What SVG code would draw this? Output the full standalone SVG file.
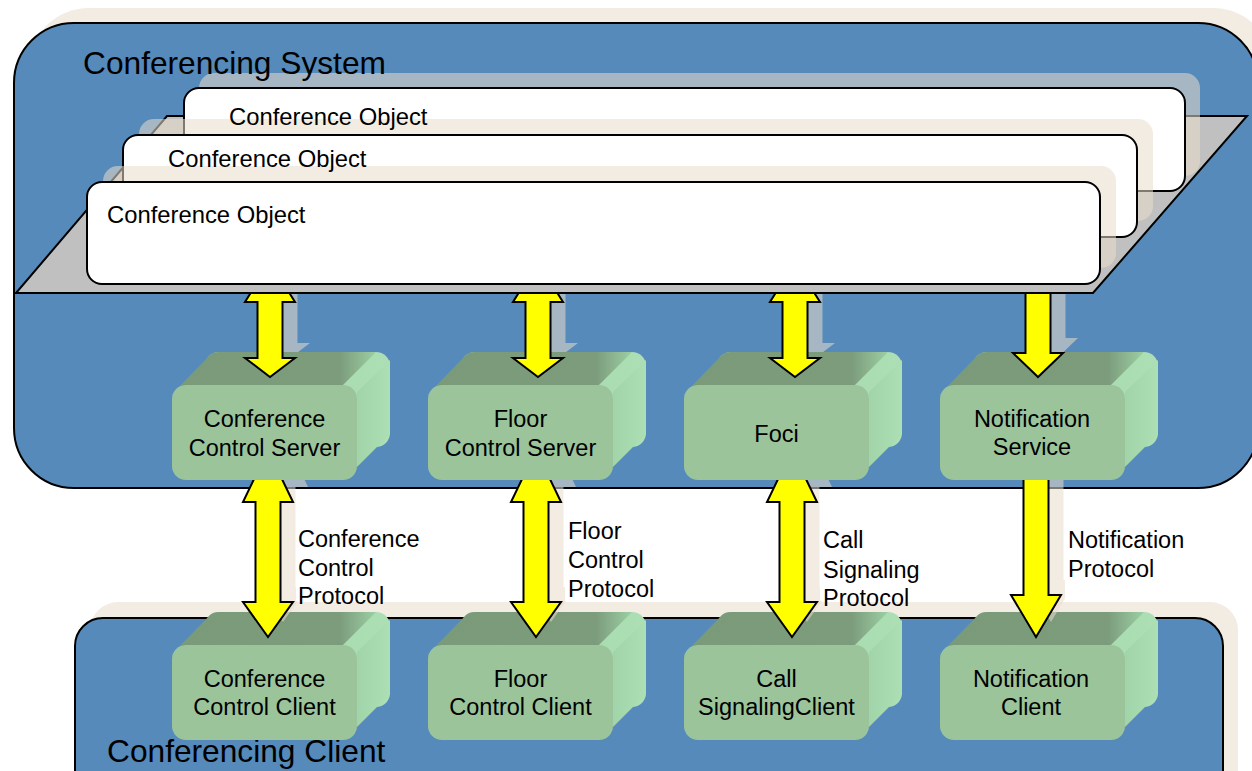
<svg xmlns="http://www.w3.org/2000/svg" xmlns:xlink="http://www.w3.org/1999/xlink" width="1252" height="771" viewBox="0 0 1252 771">
<style>
.t{font-family:"Liberation Sans",Arial,sans-serif;fill:#000}
.n{font-size:23.5px;text-anchor:middle}
.l{font-size:23.5px}
.big{font-size:31.7px}
.obj{font-size:23.8px}
.arrow{fill:#FFFF00;stroke:#000;stroke-width:2;stroke-linejoin:miter}
.sh{fill:#E9DDCB;opacity:.55}
.frame{fill:#558ABA;stroke:#000;stroke-width:2}
.co{fill:#FFFFFF;stroke:#000;stroke-width:2}
.lbg{fill:#FFFFFF}
</style>
<defs>
<linearGradient id="topG" x1="0" y1="0" x2="1" y2="0">
<stop offset="0" stop-color="#7A9A7A"/>
<stop offset="0.82" stop-color="#7C9C7C"/>
<stop offset="1" stop-color="#9CCFA3"/>
</linearGradient>
<linearGradient id="sideG" x1="0" y1="0" x2="1" y2="0">
<stop offset="0" stop-color="#A2D4AA"/>
<stop offset="1" stop-color="#ACDFB3"/>
</linearGradient>
<g id="box">
<rect x="33" y="0" width="185" height="95" rx="14" fill="url(#sideG)"/>
<path d="M3,39 L38,3 Q41,0 47,0 L204,0 L171,33 L10,33 Z" fill="url(#topG)"/>
<path d="M185,40 L218,8 L218,82 L185,115 Z" fill="url(#sideG)"/>
<rect x="0" y="33" width="185" height="95" rx="14" fill="#9BC49B"/>
</g>
</defs>

<g id="conferencing-system">
<rect class="sh" x="29" y="8" width="1244" height="465" rx="60"/>
<rect class="frame" x="14" y="23" width="1244" height="465" rx="60"/>
</g>

<g id="conferencing-client">
<rect class="sh" x="90" y="602" width="1148" height="200" rx="28"/>
<rect class="frame" x="75" y="618" width="1148" height="200" rx="28"/>
<text class="t big" x="107" y="762">Conferencing Client</text>
</g>

<g id="client-nodes">
<g id="conference-control-client">
<use xlink:href="#box" transform="translate(172,612)"/>
<text class="t n" x="264.5" y="687">Conference</text>
<text class="t n" x="264.5" y="715">Control Client</text>
</g>
<g id="floor-control-client">
<use xlink:href="#box" transform="translate(428,612)"/>
<text class="t n" x="520.5" y="687">Floor</text>
<text class="t n" x="520.5" y="715">Control Client</text>
</g>
<g id="call-signaling-client">
<use xlink:href="#box" transform="translate(684,612)"/>
<text class="t n" x="776.5" y="687">Call</text>
<text class="t n" x="776.5" y="715">SignalingClient</text>
</g>
<g id="notification-client">
<use xlink:href="#box" transform="translate(940,612)"/>
<text class="t n" x="1031" y="687">Notification</text>
<text class="t n" x="1031" y="715">Client</text>
</g>
</g>

<g id="connectors">
<g id="lower-shadows" transform="translate(15,-15)">
<path class="sh" d="M268,450 L293,502 L280.5,502 L280.5,602 L293,602 L268,637 L243,602 L255.5,602 L255.5,502 L243,502 Z"/>
<path class="sh" d="M536,450 L561,502 L548.5,502 L548.5,602 L561,602 L536,637 L511,602 L523.5,602 L523.5,502 L511,502 Z"/>
<path class="sh" d="M792,450 L817,502 L804.5,502 L804.5,602 L817,602 L792,637 L767,602 L779.5,602 L779.5,502 L767,502 Z"/>
<path class="sh" d="M1023.5,460 L1048.5,460 L1048.5,595 L1061,595 L1036,637 L1011,595 L1023.5,595 Z"/>
</g>
<g id="labels">
<rect class="lbg" x="296" y="489" width="130" height="112"/>
<text class="t l" x="298" y="547">Conference</text>
<text class="t l" x="298" y="576">Control</text>
<text class="t l" x="298" y="604">Protocol</text>
<rect class="lbg" x="565" y="489" width="100" height="112"/>
<text class="t l" x="568" y="539">Floor</text>
<text class="t l" x="568" y="568">Control</text>
<text class="t l" x="568" y="597">Protocol</text>
<rect class="lbg" x="820" y="489" width="110" height="112"/>
<text class="t l" x="823" y="548">Call</text>
<text class="t l" x="823" y="578">Signaling</text>
<text class="t l" x="823" y="606">Protocol</text>
<rect class="lbg" x="1065" y="489" width="125" height="112"/>
<text class="t l" x="1068" y="548">Notification</text>
<text class="t l" x="1068" y="577">Protocol</text>
</g>
<path class="arrow" d="M268,450 L293,502 L280.5,502 L280.5,602 L293,602 L268,637 L243,602 L255.5,602 L255.5,502 L243,502 Z"/>
<path class="arrow" d="M536,450 L561,502 L548.5,502 L548.5,602 L561,602 L536,637 L511,602 L523.5,602 L523.5,502 L511,502 Z"/>
<path class="arrow" d="M792,450 L817,502 L804.5,502 L804.5,602 L817,602 L792,637 L767,602 L779.5,602 L779.5,502 L767,502 Z"/>
<path class="arrow" d="M1023.5,460 L1048.5,460 L1048.5,595 L1061,595 L1036,637 L1011,595 L1023.5,595 Z"/>
<g id="upper-shadows" transform="translate(15,-15)">
<path class="sh" d="M270,262 L295,302 L282.5,302 L282.5,358 L295,358 L270,377 L245,358 L257.5,358 L257.5,302 L245,302 Z"/>
<path class="sh" d="M538,262 L563,302 L550.5,302 L550.5,358 L563,358 L538,377 L513,358 L525.5,358 L525.5,302 L513,302 Z"/>
<path class="sh" d="M795,262 L820,302 L807.5,302 L807.5,358 L820,358 L795,377 L770,358 L782.5,358 L782.5,302 L770,302 Z"/>
<path class="sh" d="M1025.5,262 L1050.5,262 L1050.5,353 L1063,353 L1038,377 L1013,353 L1025.5,353 Z"/>
</g>
</g>

<g id="server-nodes">
<g id="conference-control-server">
<use xlink:href="#box" transform="translate(172,352)"/>
<text class="t n" x="264.5" y="427">Conference</text>
<text class="t n" x="264.5" y="456">Control Server</text>
</g>
<g id="floor-control-server">
<use xlink:href="#box" transform="translate(428,352)"/>
<text class="t n" x="520.5" y="427">Floor</text>
<text class="t n" x="520.5" y="456">Control Server</text>
</g>
<g id="foci">
<use xlink:href="#box" transform="translate(684,352)"/>
<text class="t n" x="776.5" y="442">Foci</text>
</g>
<g id="notification-service">
<use xlink:href="#box" transform="translate(940,352)"/>
<text class="t n" x="1032" y="427">Notification</text>
<text class="t n" x="1032" y="455">Service</text>
</g>
</g>

<g id="connectors-upper">
<path class="arrow" d="M270,262 L295,302 L282.5,302 L282.5,358 L295,358 L270,377 L245,358 L257.5,358 L257.5,302 L245,302 Z"/>
<path class="arrow" d="M538,262 L563,302 L550.5,302 L550.5,358 L563,358 L538,377 L513,358 L525.5,358 L525.5,302 L513,302 Z"/>
<path class="arrow" d="M795,262 L820,302 L807.5,302 L807.5,358 L820,358 L795,377 L770,358 L782.5,358 L782.5,302 L770,302 Z"/>
<path class="arrow" d="M1025.5,262 L1050.5,262 L1050.5,353 L1063,353 L1038,377 L1013,353 L1025.5,353 Z"/>
</g>

<g id="conference-objects">
<polygon points="167,116 1247,116 1093,293 16,293" fill="#C0C0C0" stroke="#000" stroke-width="2"/>
<rect class="sh" x="199" y="73" width="1001" height="103" rx="15"/>
<rect class="co" x="184" y="88" width="1001" height="103" rx="15"/>
<rect class="sh" x="139" y="119" width="1014" height="102" rx="15"/>
<rect class="co" x="123" y="135" width="1014" height="102" rx="15"/>
<rect class="sh" x="103" y="166" width="1013" height="102" rx="15"/>
<rect class="co" x="87" y="182" width="1013" height="102" rx="15"/>
<text class="t obj" x="229" y="125">Conference Object</text>
<text class="t obj" x="168" y="167">Conference Object</text>
<text class="t obj" x="107" y="223">Conference Object</text>
</g>

<g id="conferencing-system-label">
<text class="t big" x="83" y="74">Conferencing System</text>
</g>
</svg>
